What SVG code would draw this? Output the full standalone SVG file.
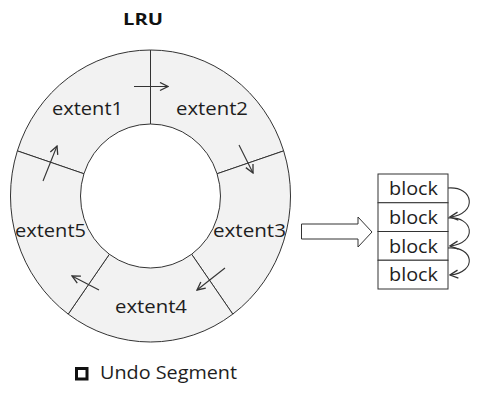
<svg xmlns="http://www.w3.org/2000/svg" width="487" height="400" viewBox="0 0 487 400">
<defs>
<style>
.seg{fill:#f2f2f2;stroke:#333;stroke-width:1}
.lbl{font-family:"Open Sans","Noto Sans",sans-serif;font-size:18px;fill:#1e1e1e}
.bl{font-size:19px}
.title{font-family:"Open Sans","Noto Sans",sans-serif;font-size:16.5px;font-weight:bold;fill:#111}
.arr{fill:none;stroke:#333;stroke-width:1.1;marker-end:url(#open)}
.blk{fill:#fff;stroke:#333;stroke-width:1}
</style>
<marker id="open" viewBox="0 0 10 10" refX="9" refY="5" markerWidth="10" markerHeight="10" markerUnits="userSpaceOnUse" orient="auto">
<path d="M1,1 L9,5 L1,9" fill="none" stroke="#333" stroke-width="1.3"/>
</marker>
</defs>
<rect width="487" height="400" fill="#fff"/>
<text class="title" x="123" y="25" textLength="40" lengthAdjust="spacingAndGlyphs">LRU</text>
<g id="extent1">
<path class="seg" d="M17.35,150.88 A140,146 0 0 1 150.5,50 L150.5,124 A70,72 0 0 0 83.93,173.75 Z"/>
<text class="lbl" x="52" y="115" textLength="71" lengthAdjust="spacingAndGlyphs">extent1</text>
</g>
<g id="extent2">
<path class="seg" d="M150.5,50 A140,146 0 0 1 283.65,150.88 L217.07,173.75 A70,72 0 0 0 150.5,124 Z"/>
<text class="lbl" x="176" y="115" textLength="72" lengthAdjust="spacingAndGlyphs">extent2</text>
</g>
<g id="extent3">
<path class="seg" d="M283.65,150.88 A140,146 0 0 1 232.79,314.12 L191.65,254.25 A70,72 0 0 0 217.07,173.75 Z"/>
<text class="lbl" x="213" y="237" textLength="73" lengthAdjust="spacingAndGlyphs">extent3</text>
</g>
<g id="extent4">
<path class="seg" d="M232.79,314.12 A140,146 0 0 1 68.21,314.12 L109.35,254.25 A70,72 0 0 0 191.65,254.25 Z"/>
<text class="lbl" x="115" y="313" textLength="72" lengthAdjust="spacingAndGlyphs">extent4</text>
</g>
<g id="extent5">
<path class="seg" d="M68.21,314.12 A140,146 0 0 1 17.35,150.88 L83.93,173.75 A70,72 0 0 0 109.35,254.25 Z"/>
<text class="lbl" x="15" y="237" textLength="71" lengthAdjust="spacingAndGlyphs">extent5</text>
</g>
<g id="blocks">
<rect class="blk" x="378" y="174" width="70" height="28.75"/>
<rect class="blk" x="378" y="202.75" width="70" height="28.75"/>
<rect class="blk" x="378" y="231.5" width="70" height="28.75"/>
<rect class="blk" x="378" y="260.25" width="70" height="28.75"/>
<text class="lbl bl" x="389" y="195" textLength="49" lengthAdjust="spacingAndGlyphs">block</text>
<text class="lbl bl" x="389" y="223.75" textLength="49" lengthAdjust="spacingAndGlyphs">block</text>
<text class="lbl bl" x="389" y="252.5" textLength="49" lengthAdjust="spacingAndGlyphs">block</text>
<text class="lbl bl" x="389" y="281.25" textLength="49" lengthAdjust="spacingAndGlyphs">block</text>
</g>
<g id="connectors">
<path class="arr" d="M134,86.5 L168,86.5"/>
<path class="arr" d="M239,145 L253,173"/>
<path class="arr" d="M225,268 L197,290"/>
<path class="arr" d="M99,290 L72,276"/>
<path class="arr" d="M43,181 L57,146"/>
<path d="M301.5,224 L358,224 L358,217 L372,232 L358,247 L358,239 L301.5,239 Z" fill="#fff" stroke="#333" stroke-width="1"/>
<path class="arr" d="M448,188 C474,186 478,214 450,217"/>
<path class="arr" d="M448,218 C474,216 478,243 450,246"/>
<path class="arr" d="M448,248 C474,246 478,272 450,275"/>
</g>
<g id="legend">
<rect x="76.5" y="368.5" width="10.5" height="10.5" fill="#fff" stroke="#111" stroke-width="3"/>
<text class="lbl" x="100" y="379" textLength="137" lengthAdjust="spacingAndGlyphs">Undo Segment</text>
</g>
</svg>
